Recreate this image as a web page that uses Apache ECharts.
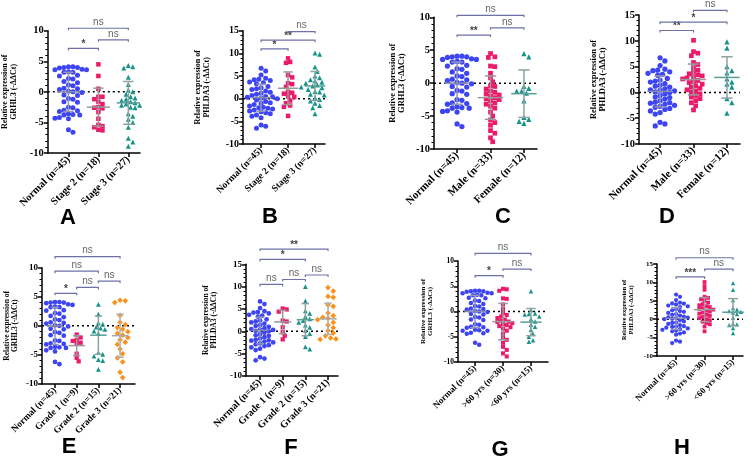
<!DOCTYPE html>
<html><head><meta charset="utf-8">
<script src="https://cdn.jsdelivr.net/npm/echarts@6/dist/echarts.min.js"></script>
<style>html,body{margin:0;padding:0;background:#fff}#c{width:753px;height:458px}</style>
</head><body><div id="c"></div>
<script>
// ---------------- DATA ----------------
const catsStage = ['Normal (n=45)', 'Stage 2 (n=18)', 'Stage 3 (n=27)'];
const catsSex   = ['Normal (n=45)', 'Male (n=33)', 'Female (n=12)'];
const catsGrade = ['Normal (n=45)', 'Grade 1 (n=9)', 'Grade 2 (n=15)', 'Grade 3 (n=21)'];
const catsAge   = ['Normal (n=45)', '>60 yrs (n=30)', '<60 yrs (n=15)'];

const grhl3Normal = [4.1,4.1,4.0,4.0,3.9,3.7,3.6,3.6,3.3,3.2,3.2,2.7,2.6,2.2,2.1,1.7,1.5,1.1,1.0,0.6,0.5,0.4,0.1,0.0,-0.1,-0.5,-0.6,-1.1,-1.2,-1.6,-1.7,-2.5,-2.6,-3.0,-3.1,-3.2,-3.6,-3.7,-3.8,-3.8,-4.2,-4.3,-4.4,-6.2,-6.6];
const phlda3Normal = [6.7,6.1,5.2,4.5,4.3,4.2,4.0,3.7,3.5,3.3,2.7,2.4,2.2,2.0,1.7,1.4,1.2,1.0,0.7,0.5,0.4,0.3,0.1,0.0,-0.3,-0.6,-0.9,-1.0,-1.3,-1.6,-1.9,-2.0,-2.1,-2.3,-2.5,-2.7,-2.9,-3.1,-3.3,-3.6,-3.9,-4.2,-5.8,-6.1,-6.5];

const grhl3Stage2 = [4.5,2.6,0.5,-0.8,-0.8,-1.2,-1.6,-2.0,-2.5,-2.6,-2.7,-3.3,-4.4,-5.4,-5.6,-5.8,-6.2,-6.3];
const grhl3Stage3 = [4.3,4.1,3.9,2.4,1.2,0.3,0.0,-0.4,-0.8,-1.0,-1.2,-1.4,-1.6,-1.8,-2.0,-2.2,-2.2,-2.5,-2.6,-3.6,-4.0,-4.5,-5.0,-5.8,-7.6,-8.2,-8.9];
const phlda3Stage2 = [8.9,8.1,7.9,5.2,4.7,3.4,3.2,2.6,1.5,1.3,1.1,0.5,0.4,-0.4,-1.0,-1.5,-1.8,-3.8];
const phlda3Stage3 = [10.1,9.8,7.0,6.0,5.0,4.6,4.2,3.9,3.6,3.4,3.2,3.0,2.8,2.6,2.4,2.0,1.6,1.5,1.0,0.8,0.2,-0.2,-0.5,-1.0,-1.5,-2.0,-3.3];

const grhl3Male = [4.5,4.0,3.9,2.6,2.5,1.5,0.8,0.2,-0.4,-0.5,-0.9,-1.2,-1.4,-1.6,-1.8,-2.0,-2.2,-2.4,-2.5,-2.7,-3.0,-3.2,-3.5,-3.8,-4.4,-5.0,-5.6,-6.0,-6.4,-7.2,-7.6,-8.3,-8.9];
const grhl3Female = [4.5,4.0,-0.5,-0.8,-1.2,-1.2,-1.5,-2.7,-5.2,-5.5,-5.8,-6.1];
const phlda3Male = [10.1,7.9,7.6,7.1,5.8,5.4,4.8,4.3,3.9,3.6,3.4,3.2,3.0,2.8,2.6,2.3,2.1,1.9,1.6,1.3,1.0,0.8,0.5,0.3,0.0,-0.3,-0.6,-0.9,-1.2,-1.6,-2.0,-2.6,-3.4];
const phlda3Female = [9.8,8.6,5.0,4.2,3.8,2.6,2.0,1.6,1.0,-1.2,-2.0,-4.0];

const grhl3Grade1 = [-1.5,-2.0,-2.4,-2.6,-2.9,-3.1,-4.8,-5.5,-6.1];
const grhl3Grade2 = [3.7,2.0,0.5,0.3,-0.2,-0.4,-0.6,-0.9,-1.3,-4.6,-4.9,-5.2,-5.8,-6.0,-7.5];
const grhl3Grade3 = [4.4,4.3,4.0,1.8,0.6,0.2,-0.3,-0.6,-1.0,-1.3,-1.6,-2.0,-2.4,-2.8,-3.2,-4.0,-4.8,-5.5,-6.2,-8.0,-8.9];
const phlda3Grade1 = [5.1,4.9,4.4,2.4,2.2,0.9,-0.2,-1.0,-1.8];
const phlda3Grade2 = [10.0,6.8,4.6,4.0,3.3,2.8,2.4,2.0,1.4,0.9,0.2,-0.5,-1.2,-3.5,-4.0];
const phlda3Grade3 = [9.8,9.0,7.8,7.6,5.9,5.6,4.1,3.5,3.1,2.9,2.8,2.6,2.0,1.4,0.8,0.1,-0.4,-1.0,-1.5,-1.7,-1.8];

const grhl3Over60 = [4.5,4.4,4.1,2.6,2.5,1.4,0.5,-0.3,-0.7,-1.0,-1.3,-1.6,-1.8,-2.0,-2.1,-2.3,-2.5,-2.7,-2.9,-3.1,-3.4,-3.8,-4.4,-5.2,-5.6,-6.2,-7.0,-7.6,-8.3,-8.9];
const grhl3Under60 = [4.0,0.3,-0.4,-0.5,-0.6,-1.0,-1.5,-2.0,-2.6,-3.0,-3.6,-4.4,-5.0,-5.7,-6.0];
const phlda3Over60 = [10.1,9.0,8.0,6.1,5.8,5.4,5.0,4.5,4.1,3.8,3.5,3.3,3.0,2.8,2.6,2.3,2.1,1.8,1.5,1.2,0.9,0.6,0.3,0.0,-0.3,-0.7,-1.0,-1.4,-2.0,-3.3];
const phlda3Under60 = [9.8,8.0,5.2,3.0,2.6,2.2,2.0,1.8,1.4,0.4,-1.2,-1.4,-1.6,-2.4,-3.8];

// mean, SD
const meanSdA = [[0.0,3.2],[-2.5,3.1],[-1.8,3.5]];
const meanSdB = [[0.2,3.0],[2.3,3.6],[2.8,3.2]];
const meanSdC = [[0.0,3.2],[-2.2,3.3],[-1.6,3.6]];
const meanSdD = [[0.2,3.0],[2.5,3.0],[2.9,4.0]];
const meanSdE = [[0.0,3.2],[-3.4,1.7],[-1.6,3.3],[-1.7,3.7]];
const meanSdF = [[0.2,3.0],[2.1,2.6],[2.6,3.6],[2.8,3.5]];
const meanSdG = [[0.0,3.2],[-2.0,3.6],[-2.1,2.7]];
const meanSdH = [[0.2,3.0],[2.6,3.3],[1.9,3.7]];

// significance brackets: [from, to, height, label]
const bracketsA = [[0,1,7.1,'*'],[1,2,8.5,'ns'],[0,2,10.4,'ns']];
const bracketsB = [[0,1,11.0,'*'],[0,2,12.9,'**'],[1,2,14.8,'ns']];
const bracketsC = [[0,1,7.3,'**'],[1,2,8.4,'ns'],[0,2,10.3,'ns']];
const bracketsD = [[0,1,12.0,'**'],[0,2,13.6,'*'],[1,2,15.9,'ns']];
const bracketsE = [[0,1,5.6,'*'],[1,2,6.6,'ns'],[2,3,7.7,'ns'],[0,2,9.4,'ns'],[0,3,11.9,'ns']];
const bracketsF = [[0,1,10.5,'ns'],[1,2,11.6,'ns'],[2,3,12.6,'ns'],[0,2,16.1,'*'],[0,3,18.4,'**']];
const bracketsG = [[0,1,7.1,'*'],[1,2,8.4,'ns'],[0,2,11.5,'ns']];
const bracketsH = [[0,1,11.5,'***'],[1,2,13.6,'ns'],[0,2,16.7,'ns']];

// ---------------- STYLE / LAYOUT ----------------
const SERIF = '"Liberation Serif","Times New Roman",serif';
const SANS = '"Liberation Sans",Arial,sans-serif';
const marks = {
  normal: {color:'#3d44f2', symbol:'circle', size:5, err:'#9497b8', mean:'#8a8db0'},
  pink:   {color:'#ec1a6a', symbol:'rect', size:4.5, err:'#9a9a9a', mean:'#9a9a9a'},
  teal:   {color:'#19938a', symbol:'triangle', size:5, err:'#8fa3a1', mean:'#5a9e98'},
  orange: {color:'#f7931e', symbol:'diamond', size:6, err:'#b0b0b0', mean:'#a8a8a8'}
};

const panels = [
  {letter:'A', gene:'GRHL3', cats:catsStage, groups:[grhl3Normal,grhl3Stage2,grhl3Stage3], kinds:['normal','pink','teal'], ms:meanSdA, br:bracketsA,
   L:{left:46,top:30.7,width:94,height:122.3,xmin:-0.69,xmax:2.39,ymin:-10,ymax:10,tf:10.5,xf:10.5,nf:8,ng:30,lx:68,ly:218,ss:1}},
  {letter:'B', gene:'PHLDA3', cats:catsStage, groups:[phlda3Normal,phlda3Stage2,phlda3Stage3], kinds:['normal','pink','teal'], ms:meanSdB, br:bracketsB,
   L:{left:243,top:30.7,width:82,height:113.3,xmin:-0.67,xmax:2.37,ymin:-10,ymax:15,tf:10,xf:9.6,nf:8,ng:32,lx:270,ly:217,ss:1}},
  {letter:'C', gene:'GRHL3', cats:catsSex, groups:[grhl3Normal,grhl3Male,grhl3Female], kinds:['normal','pink','teal'], ms:meanSdC, br:bracketsC,
   L:{left:434,top:17.3,width:103,height:131.7,xmin:-0.69,xmax:2.39,ymin:-10,ymax:10,tf:10.5,xf:11,nf:8.5,ng:28,lx:503,ly:217,ss:1.05}},
  {letter:'D', gene:'PHLDA3', cats:catsSex, groups:[phlda3Normal,phlda3Male,phlda3Female], kinds:['normal','pink','teal'], ms:meanSdD, br:bracketsD,
   L:{left:639,top:15,width:101,height:129,xmin:-0.63,xmax:2.39,ymin:-10,ymax:15,tf:10.5,xf:11,nf:8.5,ng:32,lx:667,ly:217,ss:1.05}},
  {letter:'E', gene:'GRHL3', cats:catsGrade, groups:[grhl3Normal,grhl3Grade1,grhl3Grade2,grhl3Grade3], kinds:['normal','pink','teal','orange'], ms:meanSdE, br:bracketsE,
   L:{left:42,top:267.7,width:93,height:116.3,xmin:-0.6,xmax:3.69,ymin:-10,ymax:10,tf:9,xf:9.4,nf:7.5,ng:23,lx:69,ly:447,ss:0.95}},
  {letter:'F', gene:'PHLDA3', cats:catsGrade, groups:[phlda3Normal,phlda3Grade1,phlda3Grade2,phlda3Grade3], kinds:['normal','pink','teal','orange'], ms:meanSdF, br:bracketsF,
   L:{left:246,top:264.3,width:92,height:111.7,xmin:-0.62,xmax:3.44,ymin:-10,ymax:15,tf:9,xf:10,nf:7.5,ng:28,lx:291,ly:448,ss:0.95}},
  {letter:'G', gene:'GRHL3', cats:catsAge, groups:[grhl3Normal,grhl3Over60,grhl3Under60], kinds:['normal','pink','teal'], ms:meanSdG, br:bracketsG,
   L:{left:458,top:261,width:90,height:101,xmin:-0.61,xmax:2.61,ymin:-10,ymax:10,tf:7.5,xf:9,nf:7,ng:24,lx:500,ly:450,ss:0.9}},
  {letter:'H', gene:'PHLDA3', cats:catsAge, groups:[phlda3Normal,phlda3Over60,phlda3Under60], kinds:['normal','pink','teal'], ms:meanSdH, br:bracketsH,
   L:{left:657,top:264,width:86,height:92,xmin:-0.67,xmax:2.35,ymin:-10,ymax:15,tf:7,xf:8.7,nf:6.5,ng:22,lx:682,ly:448,ss:0.85}}
];

// beeswarm placement (pixel-space collision avoidance)
function swarm(values, catIdx, L, sz) {
  const pyu = L.height / (L.ymax - L.ymin);
  const pxc = L.width / (L.xmax - L.xmin);
  const d = sz * 0.92;
  const sorted = values.slice().sort((a, b) => b - a);
  const placed = [], out = [];
  for (const v of sorted) {
    const py = v * pyu;
    let chosen = 0;
    for (let k = 0; k < 60; k++) {
      const off = (k === 0 ? 0 : (k % 2 ? 1 : -1) * Math.ceil(k / 2)) * d * 0.5;
      if (placed.every(p => (p[0] - off) ** 2 + (p[1] - py) ** 2 >= d * d)) { chosen = off; break; }
    }
    placed.push([chosen, py]);
    out.push([catIdx + chosen / pxc, v]);
  }
  return out;
}

const grids = [], xAxes = [], yAxes = [], series = [], graphics = [];
panels.forEach((P, pi) => {
  const L = P.L;
  grids.push({left:L.left, top:L.top, width:L.width, height:L.height, containLabel:false});
  const idx = P.cats.map((_, i) => i);
  xAxes.push({
    gridIndex:pi, type:'value', min:L.xmin, max:L.xmax,
    axisLine:{show:true, onZero:false, lineStyle:{color:'#000', width:1.5}},
    axisTick:{show:true, customValues:idx, length:4, lineStyle:{color:'#000', width:1.5}},
    axisLabel:{show:true, customValues:idx, formatter:v => P.cats[Math.round(v)], rotate:45, margin:5,
      fontFamily:SERIF, fontWeight:'bold', fontSize:L.xf, color:'#000'},
    splitLine:{show:false}
  });
  yAxes.push({
    gridIndex:pi, type:'value', min:L.ymin, max:L.ymax, interval:5,
    name:'Relative expression of\n' + P.gene + ' (-ΔΔCt)', nameLocation:'middle', nameGap:L.ng, nameRotate:90,
    nameTextStyle:{fontFamily:SERIF, fontWeight:'bold', fontSize:L.nf, lineHeight:L.nf * 1.05, color:'#000'},
    axisLine:{show:true, onZero:false, lineStyle:{color:'#000', width:1.5}},
    axisTick:{show:true, length:4, lineStyle:{color:'#000', width:1.5}},
    minorTick:{show:true, splitNumber:5, length:2.5, lineStyle:{color:'#000', width:1}},
    axisLabel:{fontFamily:SERIF, fontWeight:'bold', fontSize:L.tf, color:'#000', margin:4},
    splitLine:{show:false}
  });
  // zero reference line
  series.push({type:'line', xAxisIndex:pi, yAxisIndex:pi, data:[[L.xmin, 0], [L.xmax, 0]], symbol:'none', silent:true,
    lineStyle:{color:'#000', width:1.5, type:[2, 3]}, z:1});
  // points
  P.groups.forEach((vals, gi) => {
    const m = marks[P.kinds[gi]];
    const sz = m.size * L.ss;
    series.push({type:'scatter', xAxisIndex:pi, yAxisIndex:pi, data:swarm(vals, gi, L, sz),
      symbol:m.symbol, symbolSize:sz, itemStyle:{color:m.color, opacity:1}, z:2, silent:true});
  });
  // mean ± SD
  const spacing = L.width / (L.xmax - L.xmin);
  series.push({type:'custom', xAxisIndex:pi, yAxisIndex:pi, clip:false, z:3, silent:true,
    data:P.ms.map((s, i) => [i, s[0], s[1]]),
    renderItem:(params, api) => {
      const i = api.value(0), mu = api.value(1), sd = api.value(2);
      const m = marks[P.kinds[i]];
      const c = api.coord([i, mu]), t = api.coord([i, mu + sd]), b = api.coord([i, mu - sd]);
      const mh = spacing * 0.38, ch = spacing * 0.17;
      const st = {stroke:m.err, lineWidth:1.5};
      return {type:'group', children:[
        {type:'line', shape:{x1:c[0], y1:t[1], x2:c[0], y2:b[1]}, style:st},
        {type:'line', shape:{x1:c[0] - ch, y1:t[1], x2:c[0] + ch, y2:t[1]}, style:st},
        {type:'line', shape:{x1:c[0] - ch, y1:b[1], x2:c[0] + ch, y2:b[1]}, style:st},
        {type:'line', shape:{x1:c[0] - mh, y1:c[1], x2:c[0] + mh, y2:c[1]}, style:{stroke:m.mean, lineWidth:1.5}}
      ]};
    }});
  // significance brackets
  series.push({type:'custom', xAxisIndex:pi, yAxisIndex:pi, clip:false, z:4, silent:true,
    data:P.br.map(b => [b[0], b[1], b[2]]),
    renderItem:(params, api) => {
      const a = api.coord([api.value(0), api.value(2)]), e = api.coord([api.value(1), api.value(2)]);
      const lab = P.br[params.dataIndex][3];
      const star = lab !== 'ns';
      return {type:'group', children:[
        {type:'polyline', shape:{points:[[a[0], a[1] + 2], [a[0], a[1]], [e[0], e[1]], [e[0], e[1] + 2]]},
          style:{stroke:'#6e71a6', lineWidth:1.2, fill:null}},
        {type:'text', style:{text:lab, x:(a[0] + e[0]) / 2, y:a[1] - (star ? -1 : 1), align:'center', verticalAlign:'bottom',
          fontFamily:SANS, fontSize:10, fontWeight:star ? 'bold' : 'normal', fill:star ? '#444' : '#666'}}
      ]};
    }});
  graphics.push({type:'text', x:L.lx, y:L.ly, style:{text:P.letter, align:'center', verticalAlign:'middle',
    fontFamily:SANS, fontWeight:'bold', fontSize:22, fill:'#000'}});
});

const chart = echarts.init(document.getElementById('c'), null, {renderer:'canvas'});
chart.setOption({animation:false, backgroundColor:'#fff', grid:grids, xAxis:xAxes, yAxis:yAxes, series:series, graphic:graphics});
</script></body></html>
